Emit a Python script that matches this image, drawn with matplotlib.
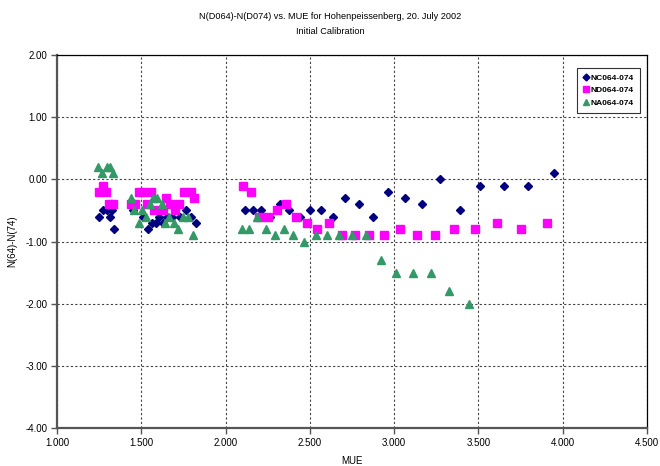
import matplotlib
matplotlib.use("Agg")
import matplotlib.pyplot as plt
from matplotlib.ticker import FormatStrFormatter, MultipleLocator

plt.rcParams['font.family'] = ['Liberation Sans', 'DejaVu Sans']

nc_x = [1.249, 1.275, 1.298, 1.315, 1.324, 1.338, 1.449, 1.509, 1.542, 1.562, 1.588, 1.607, 1.631,
        1.655, 1.681, 1.730, 1.764, 1.793, 1.825, 2.118, 2.165, 2.212, 2.264, 2.320, 2.375, 2.442,
        2.501, 2.567, 2.636, 2.711, 2.790, 2.874, 2.964, 3.063, 3.166, 3.273, 3.388, 3.512, 3.649,
        3.793, 3.948]
nc_y = [-0.6, -0.5, -0.5, -0.6, -0.5, -0.8, -0.5, -0.6, -0.8, -0.7, -0.7, -0.6, -0.7,
        -0.6, -0.6, -0.6, -0.5, -0.6, -0.7, -0.5, -0.5, -0.5, -0.6, -0.4, -0.5, -0.6,
        -0.5, -0.5, -0.6, -0.3, -0.4, -0.6, -0.2, -0.3, -0.4, 0.0, -0.5, -0.1, -0.1,
        -0.1, 0.1]

nd_x = [1.249, 1.271, 1.291, 1.310, 1.334, 1.437, 1.461, 1.485, 1.512, 1.532, 1.556, 1.576, 1.627,
        1.647, 1.671, 1.700, 1.726, 1.754, 1.792, 1.813, 2.106, 2.149, 2.200, 2.254, 2.304, 2.359,
        2.418, 2.482, 2.545, 2.616, 2.691, 2.770, 2.853, 2.940, 3.036, 3.135, 3.245, 3.356, 3.481,
        3.609, 3.754, 3.906]
nd_y = [-0.2, -0.1, -0.2, -0.4, -0.4, -0.4, -0.4, -0.2, -0.2, -0.4, -0.2, -0.5, -0.5,
        -0.3, -0.4, -0.5, -0.4, -0.2, -0.2, -0.3, -0.1, -0.2, -0.6, -0.6, -0.5, -0.4,
        -0.6, -0.7, -0.8, -0.7, -0.9, -0.9, -0.9, -0.9, -0.8, -0.9, -0.9, -0.8, -0.8,
        -0.7, -0.8, -0.7]

na_x = [1.245, 1.265, 1.295, 1.315, 1.334, 1.437, 1.457, 1.485, 1.505, 1.528, 1.552, 1.568, 1.592,
        1.621, 1.643, 1.667, 1.694, 1.720, 1.746, 1.780, 1.809, 2.096, 2.141, 2.189, 2.239, 2.292,
        2.347, 2.402, 2.466, 2.535, 2.600, 2.675, 2.751, 2.834, 2.923, 3.012, 3.111, 3.218, 3.326,
        3.447]
na_y = [0.2, 0.1, 0.2, 0.2, 0.1, -0.3, -0.5, -0.7, -0.5, -0.6, -0.4, -0.3, -0.3,
        -0.4, -0.7, -0.6, -0.7, -0.8, -0.6, -0.6, -0.9, -0.8, -0.8, -0.6, -0.8, -0.9,
        -0.8, -0.9, -1.0, -0.9, -0.9, -0.9, -0.9, -0.9, -1.3, -1.5, -1.5, -1.5, -1.8,
        -2.0]

series_names = ["NC064-074", "ND064-074", "NA064-074"]
title_text = "N(D064)-N(D074) vs. MUE for Hohenpeissenberg, 20. July 2002\nInitial Calibration"
x_label = "MUE"
y_label = "N(64)-N(74)"

fig = plt.figure(figsize=(6.6, 4.66), dpi=100)
ax = fig.add_axes([57/660, 1-428/466, (647-57)/660, (428-55)/466])

ax.plot(nc_x, nc_y, linestyle='none', marker='D', markersize=4.4, color='#000080',
        markeredgecolor='#000080', label=series_names[0], zorder=3)
ax.plot(nd_x, nd_y, linestyle='none', marker='s', markersize=5.2, color='#FF00FF',
        markeredgecolor='#FF00FF', label=series_names[1], zorder=3)
ax.plot(na_x, na_y, linestyle='none', marker='^', markersize=5.8, color='#339966',
        markeredgecolor='#339966', label=series_names[2], zorder=3)

ax.set_xlim(1.0, 4.5)
ax.set_ylim(-4.0, 2.0)
ax.xaxis.set_major_locator(MultipleLocator(0.5))
ax.yaxis.set_major_locator(MultipleLocator(1.0))
ax.xaxis.set_major_formatter(FormatStrFormatter('%.3f'))
ax.yaxis.set_major_formatter(FormatStrFormatter('%.2f'))
ax.grid(True, color='#444444', linestyle=(0, (2, 2)), linewidth=0.8)
ax.set_axisbelow(True)

for s in ['left', 'bottom']:
    ax.spines[s].set_color('#555555')
    ax.spines[s].set_linewidth(1.6)
for s in ['top', 'right']:
    ax.spines[s].set_color('black')
    ax.spines[s].set_linewidth(0.9)

ax.tick_params(axis='both', direction='out', length=4, width=1, color='#555555',
               labelsize=7, pad=3)

ax.set_xlabel(x_label, fontsize=7, labelpad=6)
ax.set_ylabel(y_label, fontsize=7, labelpad=6)

fig.text(0.5, 1-24/466, title_text, ha='center', va='center', fontsize=6.6,
         linespacing=1.75)

leg = ax.legend(loc='upper right', bbox_to_anchor=(644/660, 1-64/466),
                bbox_transform=fig.transFigure, fontsize=6, frameon=True,
                fancybox=False, edgecolor='black', handlelength=0.6, handletextpad=0.3,
                borderpad=0.7, labelspacing=0.55, markerscale=0.8)
leg.get_frame().set_linewidth(0.8)
for t in leg.get_texts():
    t.set_fontweight('bold')

fig.savefig('out.png', dpi=100)
